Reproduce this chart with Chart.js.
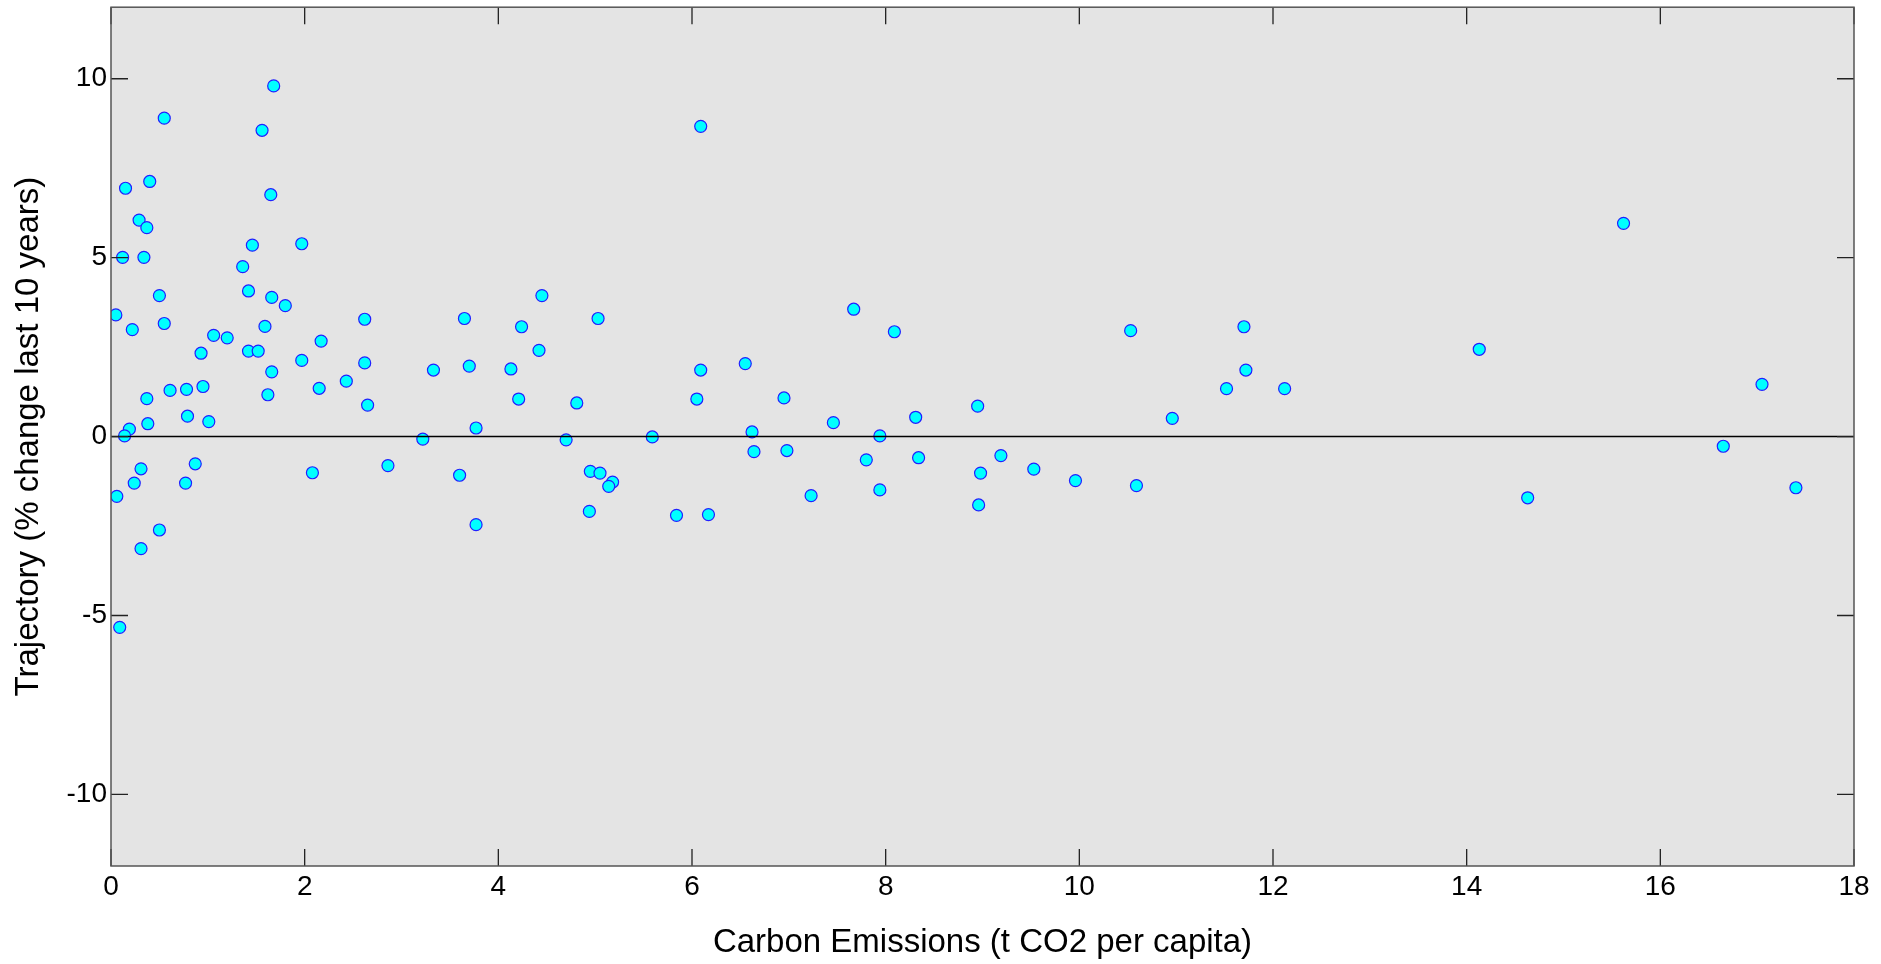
<!DOCTYPE html>
<html>
<head>
<meta charset="utf-8">
<script src="https://cdn.jsdelivr.net/npm/chart.js@4.4.1/dist/chart.umd.min.js"></script>
<style>
  html, body { margin: 0; padding: 0; background: #fff; }
</style>
</head>
<body>
<canvas id="emissionsChart" width="1881" height="964"></canvas>
<script>
// emissions per capita (t CO2) and 10-year trajectory (%) per country
const emissions = [
  1.68, 0.55, 1.56, 0.15, 0.40, 1.65, 0.29, 0.37, 0.12, 0.34,
  1.46, 1.97, 1.36, 0.50, 1.42, 1.66, 1.80, 0.05, 0.22, 0.55,
  1.59, 2.62, 1.06, 1.20, 2.17, 0.93, 1.42, 1.52, 1.97, 2.62,
  1.66, 2.43, 0.61, 0.78, 0.95, 2.15, 1.62, 0.37, 2.65, 0.79,
  1.01, 0.38, 0.19, 0.14, 0.31, 0.87, 2.08, 2.86, 0.24, 0.77,
  0.06, 0.50, 0.31, 0.09,
  3.22, 3.33, 3.65, 3.70, 3.77, 3.60, 3.77, 4.24, 4.45, 4.42,
  4.13, 4.21, 4.81, 4.70, 5.03, 4.95, 5.05, 5.18, 5.14, 4.94,
  5.59, 5.84, 6.17, 6.09, 6.09, 6.05, 6.55, 6.62, 6.64, 6.95,
  6.98, 7.23, 7.46, 7.67, 7.80, 7.94, 7.94,
  8.09, 8.31, 8.34, 8.95, 8.98, 8.96, 9.19, 9.53, 9.96, 10.53,
  10.59, 10.96, 11.52, 11.70, 11.72, 12.12, 14.13, 14.63, 15.62, 16.65,
  17.05, 17.40
];
const trajectory = [
  9.80, 8.90, 8.56, 6.94, 7.13, 6.76, 6.05, 5.84, 5.01, 5.01,
  5.35, 5.39, 4.75, 3.94, 4.07, 3.89, 3.66, 3.40, 2.99, 3.16,
  3.08, 3.28, 2.83, 2.76, 2.67, 2.33, 2.39, 2.39, 2.13, 2.06,
  1.81, 1.55, 1.29, 1.32, 1.40, 1.35, 1.17, 1.06, 0.88, 0.57,
  0.42, 0.36, 0.21, 0.02, -0.90, -0.76, -1.01, -0.81, -1.30, -1.30,
  -1.67, -2.61, -3.13, -5.33,
  -0.07, 1.86, 3.30, 1.97, 0.24, -1.08, -2.46, 3.07, 3.94, 2.41,
  1.89, 1.05, 0.94, -0.09, 3.30, -0.97, -1.02, -1.27, -1.39, -2.09,
  -0.01, -2.20, -2.18, 8.67, 1.86, 1.05, 2.04, 0.13, -0.42, 1.08,
  -0.39, -1.65, 0.39, 3.56, -0.65, 0.02, -1.49,
  2.93, 0.54, -0.59, 0.85, -1.02, -1.91, -0.53, -0.91, -1.23, 2.96,
  -1.37, 0.51, 1.34, 3.07, 1.86, 1.34, 2.44, -1.71, 5.96, -0.27,
  1.46, -1.43
];

const xTicks = [0, 2, 4, 6, 8, 10, 12, 14, 16, 18];
const yTicks = [-10, -5, 0, 5, 10];

const FONT = 'Liberation Sans, Arial, Helvetica, sans-serif';

// grey plot box, black zero line, tick marks pointing inward on all four sides
const plotFrame = {
  id: 'plotFrame',
  beforeDraw(chart) {
    const { ctx, chartArea: a } = chart;
    ctx.save();
    ctx.fillStyle = '#e4e4e4';
    ctx.fillRect(a.left, a.top, a.width, a.height);
    ctx.restore();
  },
  afterDatasetsDraw(chart) {
    const { ctx, chartArea: a, scales } = chart;
    const len = 17;
    ctx.save();
    const y0 = scales.y.getPixelForValue(0);
    ctx.strokeStyle = '#000';
    ctx.lineWidth = 1.5;
    ctx.beginPath();
    ctx.moveTo(a.left, y0);
    ctx.lineTo(a.right, y0);
    ctx.stroke();

    ctx.strokeStyle = '#222';
    ctx.lineWidth = 1.3;
    ctx.beginPath();
    xTicks.forEach(v => {
      const px = scales.x.getPixelForValue(v);
      ctx.moveTo(px, a.bottom); ctx.lineTo(px, a.bottom - len);
      ctx.moveTo(px, a.top); ctx.lineTo(px, a.top + len);
    });
    yTicks.forEach(v => {
      const py = scales.y.getPixelForValue(v);
      ctx.moveTo(a.left, py); ctx.lineTo(a.left + len, py);
      ctx.moveTo(a.right, py); ctx.lineTo(a.right - len, py);
    });
    ctx.stroke();

    ctx.strokeStyle = '#555';
    ctx.lineWidth = 1.5;
    ctx.strokeRect(a.left, a.top, a.width, a.height);
    ctx.restore();
  }
};

new Chart(document.getElementById('emissionsChart'), {
  type: 'scatter',
  data: {
    datasets: [{
      data: emissions.map((x, i) => ({ x: x, y: trajectory[i] })),
      backgroundColor: '#00ffff',
      borderColor: '#2020ff',
      borderWidth: 1.2,
      pointRadius: 6,
      pointHoverRadius: 6
    }]
  },
  options: {
    responsive: false,
    devicePixelRatio: 1,
    animation: false,
    layout: { padding: { top: 6, right: 27, left: 0, bottom: 0 } },
    plugins: { legend: { display: false }, tooltip: { enabled: false } },
    scales: {
      x: {
        type: 'linear',
        min: 0,
        max: 18,
        afterBuildTicks: s => { s.ticks = xTicks.map(v => ({ value: v })); },
        afterFit: s => { s.height = 98; s.paddingLeft = 0; s.paddingRight = 0; },
        grid: { display: false, drawTicks: false },
        border: { display: false },
        ticks: { color: '#000', padding: 4, font: { family: FONT, size: 28 } },
        title: {
          display: true,
          text: 'Carbon Emissions (t CO2 per capita)',
          color: '#000',
          font: { family: FONT, size: 33 },
          padding: { top: 0, bottom: 1 }
        }
      },
      y: {
        type: 'linear',
        min: -12,
        max: 12,
        afterBuildTicks: s => { s.ticks = yTicks.map(v => ({ value: v })); },
        afterFit: s => { s.width = 111; s.paddingTop = 0; s.paddingBottom = 0; },
        grid: { display: false, drawTicks: false },
        border: { display: false },
        ticks: { color: '#000', padding: 4, font: { family: FONT, size: 28 } },
        title: {
          display: true,
          text: 'Trajectory (% change last 10 years)',
          color: '#000',
          font: { family: FONT, size: 33 },
          padding: { top: 9, bottom: 0 }
        }
      }
    }
  },
  plugins: [plotFrame]
});
</script>
</body>
</html>
